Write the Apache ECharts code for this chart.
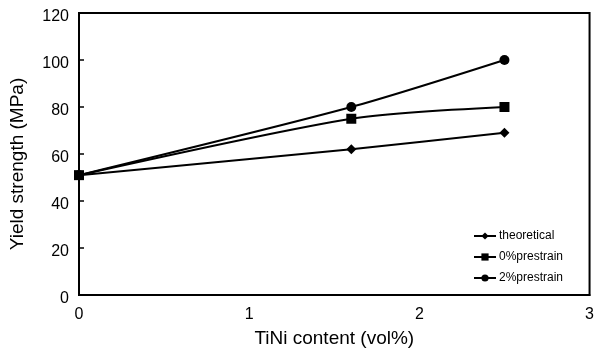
<!DOCTYPE html>
<html><head><meta charset="utf-8">
<script src="https://cdn.jsdelivr.net/npm/echarts@6/dist/echarts.min.js"></script>
<style>html,body{margin:0;padding:0;background:#fff}#c{width:597px;height:353px}</style>
</head><body><div id="c"></div>
<script>
var xValues = [0, 1.6, 2.5];
var theoretical = [51, 62, 69];
var prestrain0 = [51, 75, 80];
var prestrain2 = [51, 80, 100];
var seriesNames = ['theoretical', '0%prestrain', '2%prestrain'];
var xTicks = [0, 1, 2, 3];
var yTicks = [0, 20, 40, 60, 80, 100, 120];

function pairs(ys){ return xValues.map(function(x,i){ return [x, ys[i]]; }); }
var font = 'Liberation Sans, Arial, sans-serif';
var chart = echarts.init(document.getElementById('c'));
function mk(name, ys, sym, size){
  return { name: name, type: 'line', data: pairs(ys), smooth: 0.25,
    symbol: sym, symbolSize: size, showSymbol: true,
    lineStyle: { color: '#000', width: 2 }, itemStyle: { color: '#000' }, z: 3 };
}
chart.setOption({
  animation: false,
  grid: { left: 78, right: 4, top: 13, bottom: 55, show: true, borderColor: '#000', borderWidth: 2 },
  xAxis: { type: 'value', min: 0, max: 3, interval: 1,
    name: 'TiNi content (vol%)', nameLocation: 'middle', nameGap: 34,
    nameTextStyle: { fontFamily: font, fontSize: 19, color: '#000' },
    axisLine: { lineStyle: { color: '#000', width: 2 } },
    axisTick: { show: false },
    axisLabel: { fontFamily: font, fontSize: 16, color: '#000', margin: 12 },
    splitLine: { show: false } },
  yAxis: { type: 'value', min: 0, max: 120, interval: 20,
    name: 'Yield strength (MPa)', nameLocation: 'middle', nameGap: 52,
    nameTextStyle: { fontFamily: font, fontSize: 19, color: '#000', padding: [0, 20, 0, 0] },
    axisLine: { lineStyle: { color: '#000', width: 2 } },
    axisTick: { show: true, inside: true, length: 5, lineStyle: { color: '#000', width: 1.5 } },
    axisLabel: { color: '#000', margin: 10, formatter: '{a|{value}}',
      rich: { a: { fontFamily: font, fontSize: 16, color: '#000', padding: [8, 0, 0, 0] } } },
    splitLine: { show: false } },
  legend: { orient: 'vertical', left: 468, bottom: 64, itemGap: 9, itemWidth: 22, itemHeight: 9,
    data: seriesNames,
    textStyle: { fontFamily: font, fontSize: 12, color: '#000', padding: [0, 0, 0, -2] } },
  series: [
    mk(seriesNames[0], theoretical, 'diamond', 10),
    mk(seriesNames[1], prestrain0, 'rect', 10),
    mk(seriesNames[2], prestrain2, 'circle', 10)
  ]
});
</script></body></html>
